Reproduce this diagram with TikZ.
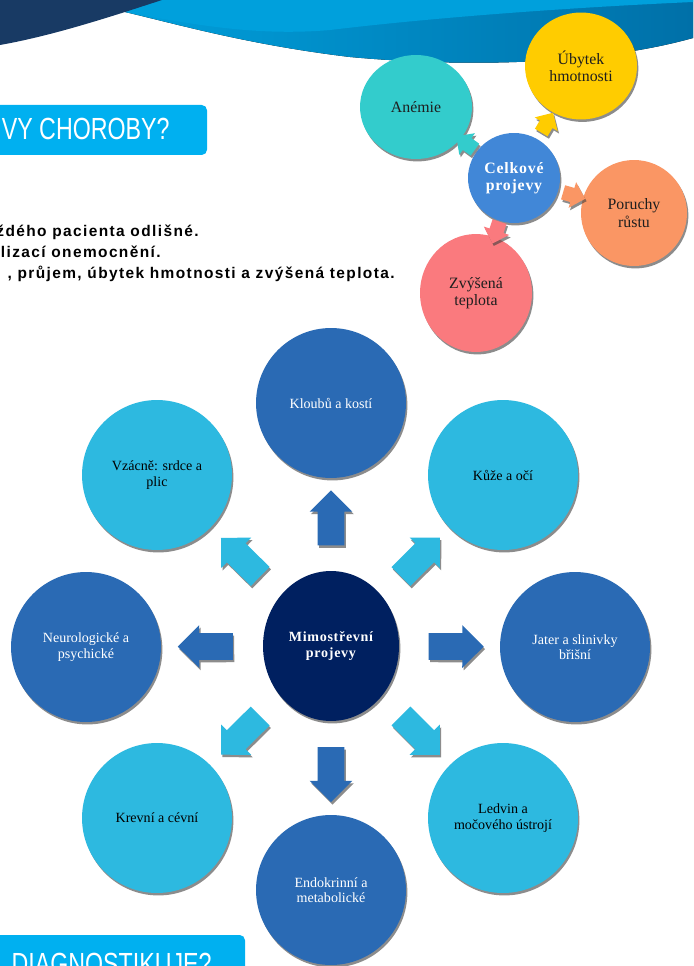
\documentclass[tikz,border=0pt]{standalone}
\usepackage{fontspec}
\setmainfont{Liberation Serif}
\newfontfamily\headfont[FakeStretch=0.76]{Liberation Sans}
\newfontfamily\bodyfont[LetterSpace=9]{Liberation Sans}
\usetikzlibrary{shapes.geometric,shapes.arrows,shadows}

\definecolor{navyband}{RGB}{24,58,100}
\definecolor{waveblue}{RGB}{0,160,220}
\definecolor{wavedark}{RGB}{0,112,168}
\definecolor{titlecyan}{RGB}{0,176,240}
\definecolor{anemieteal}{RGB}{51,204,204}
\definecolor{ubytekyellow}{RGB}{255,204,0}
\definecolor{celkoveblue}{RGB}{65,135,215}
\definecolor{poruchyorange}{RGB}{250,150,100}
\definecolor{teplotapink}{RGB}{250,122,126}
\definecolor{organblue}{RGB}{42,106,180}
\definecolor{organcyan}{RGB}{45,185,224}
\definecolor{mimonavy}{RGB}{0,32,96}
\definecolor{labelgray}{RGB}{30,30,30}

\tikzset{
  shade/.style={drop shadow={shadow xshift=0.8pt, shadow yshift=-1.4pt, opacity=.6, fill=black!75}},
  bubble/.style={ellipse, shade, inner sep=0pt, align=center,
    minimum width=3cm, minimum height=3cm, font=\fontsize{8}{8.7}\selectfont},
  darkbubble/.style={bubble, fill=organblue, text=white},
  lightbubble/.style={bubble, fill=organcyan, text=black},
  smallbubble/.style={ellipse, shade, inner sep=0pt, align=center, text=labelgray,
    font=\fontsize{9}{9.8}\selectfont},
  blockarrow/.style={single arrow, shade, midway, sloped, allow upside down,
    inner xsep=0pt, inner ysep=0.26cm, single arrow head extend=0.16cm, minimum height=1.1cm},
  smallarrow/.style={single arrow, shade, midway, sloped, allow upside down,
    inner xsep=0pt, inner ysep=0.14cm, single arrow head extend=0.12cm, minimum height=0.46cm},
  bodytext/.style={anchor=base east, inner sep=0pt, font=\bodyfont\bfseries\fontsize{8.8}{10}\selectfont},
  headtext/.style={anchor=base east, inner sep=0pt, text=white, font=\headfont\fontsize{17.4}{20}\selectfont}
}

\begin{document}
\begin{tikzpicture}[x=0.02cm,y=-0.02cm]
  \useasboundingbox (0,0) rectangle (693,966);
  \clip (0,0) rectangle (693,966);
  \fill[white] (0,0) rectangle (693,966);

  % waves along the top edge
  \fill[left color=waveblue, right color=wavedark] (110,0) -- (693,0) -- (693,38)
    .. controls (600,64) and (470,68) .. (350,57)
    .. controls (250,45) and (180,25) .. (125,12) -- cycle;
  \fill[waveblue] (110,0) -- (693,0) -- (693,2)
    .. controls (560,8) and (430,18) .. (330,30)
    .. controls (260,36) and (200,26) .. (125,12) -- cycle;
  \fill[navyband] (0,0) -- (162,0) -- (125,12)
    .. controls (90,23) and (45,37) .. (0,45) -- cycle;

  % headings
  \fill[titlecyan, rounded corners=3pt] (-10,105) rectangle (207,155);
  \node[headtext] (nadpisProjevy) at (170,140) {VY CHOROBY?};
  \fill[titlecyan, rounded corners=3pt] (-10,935) rectangle (245,990);
  \node[headtext] (nadpisDiagnostika) at (212,974) {DIAGNOSTIKUJE?};

  \node[bodytext] (radek1) at (199,236) {ždého pacienta odlišné.};
  \node[bodytext] (radek2) at (161,257) {lizací onemocnění.};
  \node[bodytext] (radek3) at (395,278) {, průjem, úbytek hmotnosti a zvýšená teplota.};

  % celkove projevy
  \node[smallbubble, fill=anemieteal, minimum width=2.24cm, minimum height=2.08cm] (anemie) at (416,107) {Anémie};
  \node[smallbubble, fill=ubytekyellow, minimum width=2.24cm, minimum height=2.14cm] (ubytek) at (581,66) {Úbytek\\hmotnosti};
  \node[smallbubble, fill=poruchyorange, minimum width=2.12cm, minimum height=2.12cm] (poruchy) at (634,213) {Poruchy\\růstu};
  \node[smallbubble, fill=teplotapink, minimum width=2.24cm, minimum height=2.36cm] (teplota) at (476,293) {Zvýšená\\teplota};
  \node[smallbubble, fill=celkoveblue, text=white, minimum width=1.84cm, minimum height=1.8cm,
    font=\bfseries\addfontfeature{LetterSpace=5}\fontsize{9}{10}\selectfont] (celkove) at (514,178) {Celkové\\projevy};
  \path
    (celkove) -- (anemie) node[smallarrow, fill=anemieteal] (s_anemie) {}
    (celkove) -- (ubytek) node[smallarrow, fill=ubytekyellow] (s_ubytek) {}
    (celkove) -- (poruchy) node[smallarrow, fill=poruchyorange] (s_poruchy) {}
    (celkove) -- (teplota) node[smallarrow, fill=teplotapink] (s_teplota) {};

  % mimostrevni projevy
  \node[bubble, fill=mimonavy, text=white, minimum width=2.72cm,
    font=\bfseries\addfontfeature{LetterSpace=5}\fontsize{8}{8.8}\selectfont] (mimo) at (331,646) {Mimostřevní\\projevy};
  \node[darkbubble] (kloub) at (331,403) {Kloubů a kostí};
  \node[lightbubble] (kuze) at (503,475) {Kůže a očí};
  \node[darkbubble] (jater) at (575,647) {Jater a slinivky\\břišní};
  \node[lightbubble] (ledvin) at (503,818) {Ledvin a\\močového ústrojí};
  \node[darkbubble] (endo) at (331,890) {Endokrinní a\\metabolické};
  \node[lightbubble] (krev) at (157,818) {Krevní a cévní};
  \node[darkbubble] (neuro) at (86,647) {Neurologické a\\psychické};
  \node[lightbubble] (vzacne) at (157,475) {Vzácně: srdce a\\plic};
  \path
    (mimo) -- (kloub) node[blockarrow, fill=organblue] (s_kloub) {}
    (mimo) -- (kuze) node[blockarrow, fill=organcyan] (s_kuze) {}
    (mimo) -- (jater) node[blockarrow, fill=organblue] (s_jater) {}
    (mimo) -- (ledvin) node[blockarrow, fill=organcyan] (s_ledvin) {}
    (mimo) -- (endo) node[blockarrow, fill=organblue] (s_endo) {}
    (mimo) -- (krev) node[blockarrow, fill=organcyan] (s_krev) {}
    (mimo) -- (neuro) node[blockarrow, fill=organblue] (s_neuro) {}
    (mimo) -- (vzacne) node[blockarrow, fill=organcyan] (s_vzacne) {};
\end{tikzpicture}
\end{document}
